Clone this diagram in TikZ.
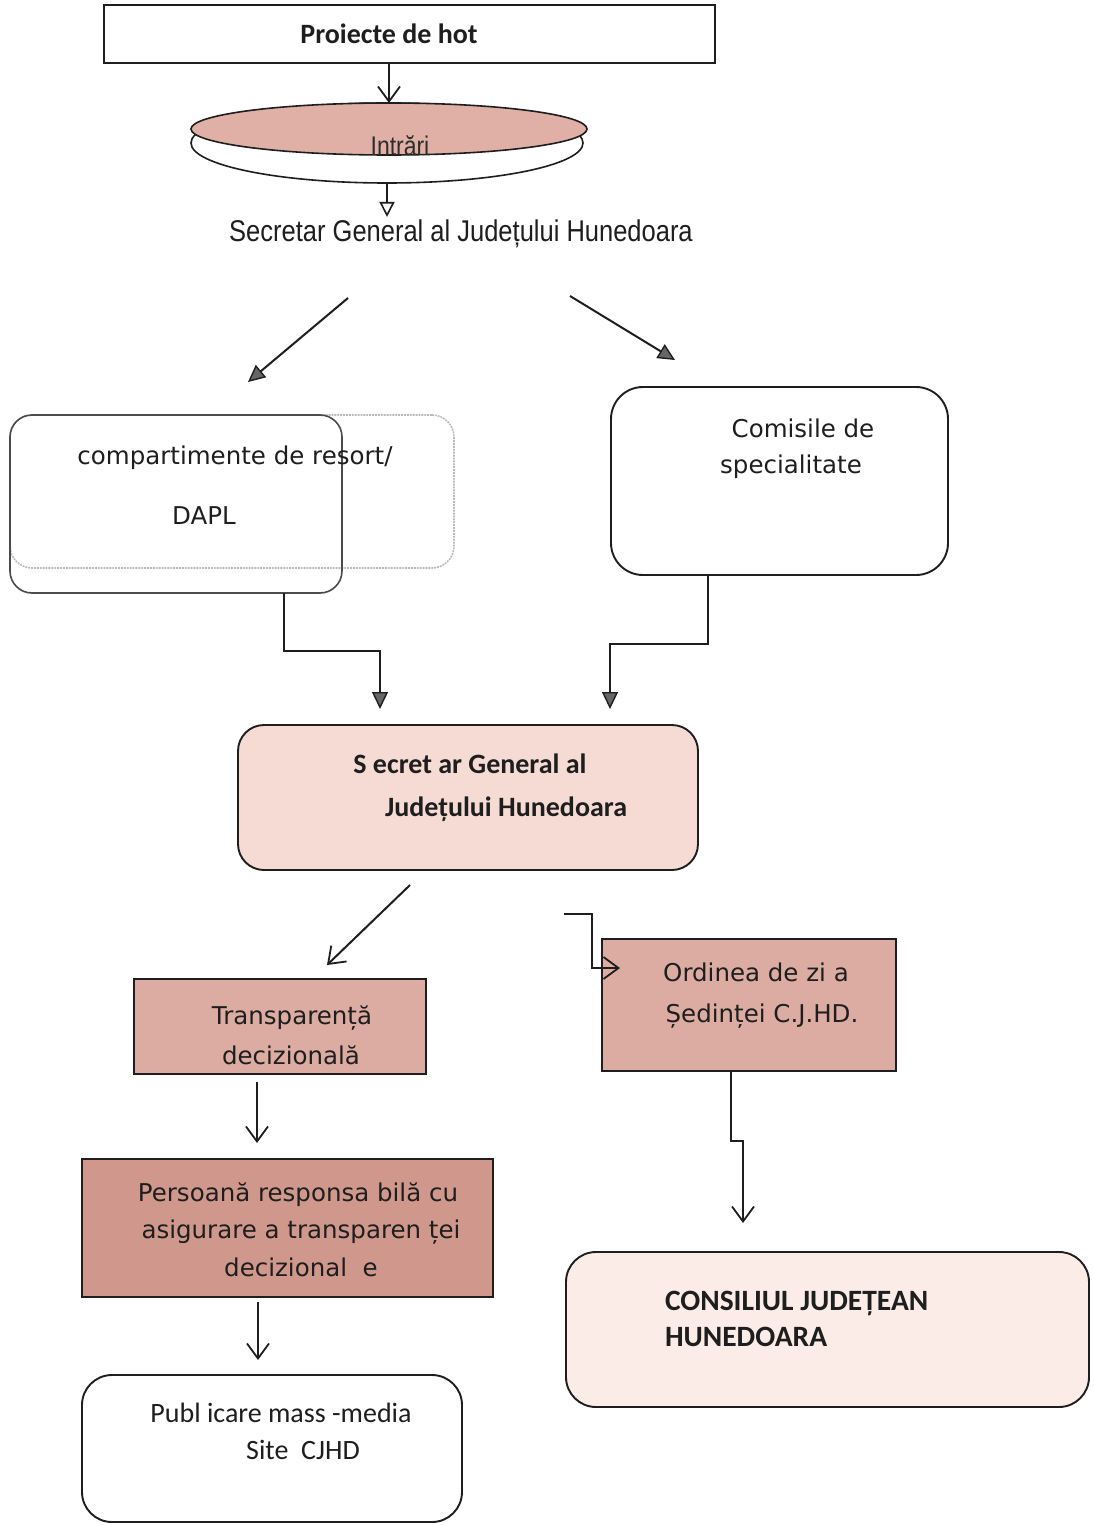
\documentclass[tikz,border=0pt]{standalone}
\usepackage{fontspec}
\usepackage{graphicx}
\setmainfont{Carlito}
\newfontfamily\dvs{DejaVu Sans}
\newfontfamily\lsans{Liberation Sans}
\usetikzlibrary{arrows.meta,shapes.geometric}
\definecolor{ellpink}{RGB}{224,176,166}
\definecolor{boxpink}{RGB}{220,172,162}
\definecolor{perspink}{RGB}{208,152,140}
\definecolor{midpink}{RGB}{246,218,212}
\definecolor{conspink}{RGB}{251,236,232}
\definecolor{ink}{RGB}{30,30,30}
\begin{document}
\begin{tikzpicture}[x=1pt,y=-1pt,
  every node/.style={outer sep=0pt, inner sep=0pt},
  frame/.style={draw=ink, line width=1.9pt},
  rbox/.style={frame, rectangle, rounded corners=#1},
  sqbox/.style={frame, rectangle},
  conn/.style={draw=ink, line width=2pt},
  vtip/.style={-{Straight Barb[length=15pt,width=22pt,line width=1.8pt]}},
  otip/.style={-{Triangle[open,length=15pt,width=15pt,line width=1.6pt]}},
  ftip/.style={-{Triangle[length=17pt,width=16pt,fill=black!60,line width=1.4pt]}},
  cal/.style={font=\fontsize{28}{32}\selectfont, text=ink},
  calb/.style={font=\fontsize{28}{32}\selectfont\bfseries, text=ink},
  dv/.style={font=\dvs\fontsize{24.5}{28}\selectfont, text=ink}
]
\useasboundingbox[fill=white] (0,0) rectangle (1094,1525);

% boxes
\node[sqbox, minimum width=611pt, minimum height=58pt] (top) at (409.5,34) {};
\node[ellipse, draw=ink, line width=1.6pt, minimum width=392pt, minimum height=80pt] (whiteell) at (387,143) {};
\node[ellipse, draw=ink, line width=1.6pt, fill=ellpink, minimum width=396pt, minimum height=52pt] (pinkell) at (389,129) {};
\node[rbox=22pt, draw=gray!55, densely dotted, line width=1.6pt, minimum width=444pt, minimum height=153pt] (compfuzz) at (232,491.5) {};
\node[rbox=22pt, draw=ink!80, line width=1.6pt, minimum width=332pt, minimum height=178pt] (comp) at (176,504) {};
\node[rbox=32pt, minimum width=337pt, minimum height=188pt] (comis) at (779.5,481) {};
\node[rbox=26pt, fill=midpink, minimum width=460pt, minimum height=145pt] (mid) at (468,797.5) {};
\node[sqbox, fill=boxpink, minimum width=292pt, minimum height=95pt] (transp) at (280,1026.5) {};
\node[sqbox, fill=boxpink, minimum width=294pt, minimum height=132pt] (ord) at (749,1005) {};
\node[sqbox, fill=perspink, minimum width=411pt, minimum height=138pt] (pers) at (287.5,1228) {};
\node[rbox=30pt, minimum width=380pt, minimum height=147pt] (pub) at (272,1448.5) {};
\node[rbox=30pt, fill=conspink, minimum width=523pt, minimum height=155pt] (cons) at (827.5,1329.5) {};

% texts
\node[calb] (ttop) at (389,34) {Proiecte de hot};
\node[text=gray!35!black] (tell) at (400,146) {\lsans\fontsize{27}{30}\selectfont\scalebox{0.85}[1]{Intrări}};
\node[text=ink] (sg) at (461,234) {\lsans\fontsize{30}{34}\selectfont\scalebox{0.85}[1]{Secretar General al Județului Hunedoara}};
\node[dv] (tcomp1) at (235,458) {compartimente de resort/};
\node[dv] (tcomp2) at (204,516) {DAPL};
\node[dv] (tcomis1) at (803,428) {Comisile de};
\node[dv] (tcomis2) at (791,467) {specialitate};
\node[calb] (tmid1) at (470,764) {S ecret ar General al};
\node[calb] (tmid2) at (506,809) {Județului Hunedoara};
\node[dv] (ttr1) at (292,1018) {Transparență};
\node[dv] (ttr2) at (291,1055) {decizională};
\node[dv] (tord1) at (756,972) {Ordinea de zi a};
\node[dv] (tord2) at (762,1016) {Ședinței C.J.HD.};
\node[dv] (tpers1) at (298,1195) {Persoană responsa bilă cu};
\node[dv] (tpers2) at (301,1232) {asigurare a transparen ței};
\node[dv] (tpers3) at (301,1267) {decizional\ \ e};
\node[cal] (tpub1) at (281,1413) {Publ icare mass -media};
\node[cal] (tpub2) at (303,1450) {Site\ \ CJHD};
\node[calb, anchor=west, font=\fontsize{29.5}{33}\selectfont\bfseries] (tcons1) at (665,1303) {CONSILIUL JUDEȚEAN};
\node[calb, anchor=west, font=\fontsize{29.5}{33}\selectfont\bfseries] (tcons2) at (665,1337) {HUNEDOARA};

% connectors
\draw[conn, vtip] (pinkell.north |- top.south) -- (pinkell.north);
\draw[conn, otip] (whiteell.south) -- ([yshift=3pt]whiteell.south |- sg.north);
\coordinate (d1s) at (348,298);
\coordinate (d1e) at (248,382);
\coordinate (d2s) at (570,296);
\coordinate (d2e) at (675,360);
\draw[conn, ftip] (d1s) -- (d1e);
\draw[conn, ftip] (d2s) -- (d2e);
\draw[conn, ftip] ([xshift=274pt]comp.south west) |- ([xshift=142pt,yshift=74pt]mid.north west) -- ([xshift=142pt,yshift=16pt]mid.north west);
\draw[conn, ftip] ([xshift=97pt]comis.south west) |- ([xshift=372pt,yshift=81pt]mid.north west) -- ([xshift=372pt,yshift=16pt]mid.north west);
\draw[conn, vtip] ([xshift=172pt,yshift=-15pt]mid.south west) -- ([xshift=193pt,yshift=14pt]transp.north west);
\draw[conn, vtip] ([xshift=326pt,yshift=-44pt]mid.south west) -- ++(28,0) |- ([xshift=18pt,yshift=-29pt]ord.north west);
\draw[conn, vtip] ([xshift=123pt,yshift=-8pt]transp.south west) -- ([xshift=175pt,yshift=16pt]pers.north west);
\draw[conn, vtip] ([xshift=129pt]ord.south west) |- ([xshift=177pt,yshift=111pt]cons.north west) -- ([xshift=177pt,yshift=29pt]cons.north west);
\draw[conn, vtip] ([xshift=176pt,yshift=-5pt]pers.south west) -- ([xshift=176pt,yshift=15pt]pub.north west);
\end{tikzpicture}
\end{document}
